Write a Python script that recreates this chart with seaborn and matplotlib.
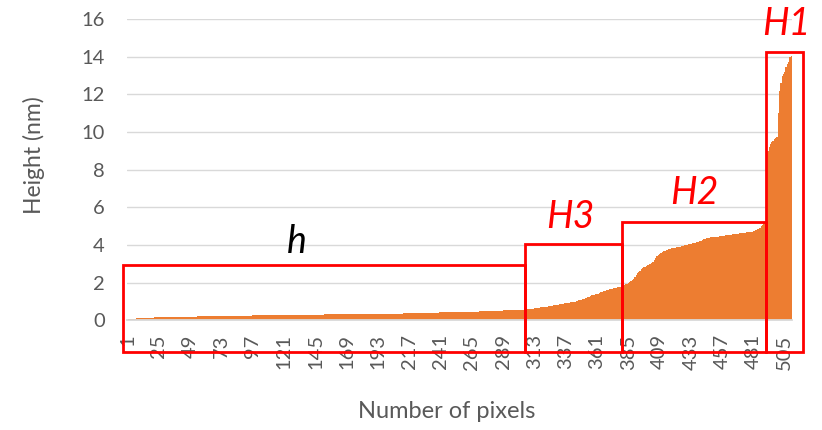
import numpy as np
import pandas as pd
import seaborn as sns
import matplotlib.pyplot as plt
import matplotlib
from matplotlib.patches import Rectangle

# sorted heights of every pixel (nm)
heights = [
    0.05, 0.06, 0.07, 0.08, 0.09, 0.10, 0.10, 0.11, 0.11, 0.12,
    0.12, 0.13, 0.13, 0.13, 0.14, 0.14, 0.14, 0.15, 0.15, 0.15,
    0.15, 0.16, 0.16, 0.16, 0.16, 0.17, 0.17, 0.17, 0.17, 0.17,
    0.18, 0.18, 0.18, 0.18, 0.18, 0.19, 0.19, 0.19, 0.19, 0.19,
    0.19, 0.20, 0.20, 0.20, 0.20, 0.20, 0.20, 0.21, 0.21, 0.21,
    0.21, 0.21, 0.21, 0.21, 0.22, 0.22, 0.22, 0.22, 0.22, 0.22,
    0.22, 0.23, 0.23, 0.23, 0.23, 0.23, 0.23, 0.23, 0.24, 0.24,
    0.24, 0.24, 0.24, 0.24, 0.24, 0.24, 0.25, 0.25, 0.25, 0.25,
    0.25, 0.25, 0.25, 0.25, 0.25, 0.26, 0.26, 0.26, 0.26, 0.26,
    0.26, 0.26, 0.26, 0.26, 0.26, 0.26, 0.27, 0.27, 0.27, 0.27,
    0.27, 0.27, 0.27, 0.27, 0.27, 0.27, 0.27, 0.27, 0.27, 0.27,
    0.27, 0.27, 0.28, 0.28, 0.28, 0.28, 0.28, 0.28, 0.28, 0.28,
    0.28, 0.29, 0.29, 0.29, 0.29, 0.29, 0.29, 0.29, 0.29, 0.29,
    0.30, 0.30, 0.30, 0.30, 0.30, 0.30, 0.30, 0.30, 0.30, 0.30,
    0.30, 0.30, 0.30, 0.31, 0.31, 0.31, 0.31, 0.31, 0.31, 0.31,
    0.31, 0.32, 0.32, 0.32, 0.32, 0.32, 0.32, 0.32, 0.32, 0.32,
    0.33, 0.33, 0.33, 0.33, 0.33, 0.33, 0.33, 0.33, 0.33, 0.33,
    0.33, 0.33, 0.34, 0.34, 0.34, 0.34, 0.34, 0.34, 0.34, 0.34,
    0.35, 0.35, 0.35, 0.35, 0.35, 0.35, 0.35, 0.35, 0.35, 0.35,
    0.35, 0.35, 0.36, 0.36, 0.36, 0.36, 0.36, 0.36, 0.36, 0.36,
    0.37, 0.37, 0.37, 0.37, 0.37, 0.37, 0.37, 0.37, 0.37, 0.37,
    0.37, 0.37, 0.38, 0.38, 0.38, 0.38, 0.38, 0.38, 0.39, 0.39,
    0.39, 0.39, 0.39, 0.39, 0.39, 0.40, 0.40, 0.40, 0.40, 0.40,
    0.40, 0.41, 0.41, 0.41, 0.42, 0.42, 0.42, 0.42, 0.42, 0.43,
    0.43, 0.43, 0.43, 0.43, 0.44, 0.44, 0.44, 0.44, 0.44, 0.44,
    0.44, 0.45, 0.45, 0.45, 0.45, 0.45, 0.45, 0.45, 0.45, 0.45,
    0.45, 0.46, 0.46, 0.46, 0.46, 0.47, 0.47, 0.47, 0.47, 0.47,
    0.48, 0.48, 0.48, 0.48, 0.49, 0.49, 0.49, 0.49, 0.50, 0.50,
    0.50, 0.50, 0.51, 0.51, 0.51, 0.52, 0.52, 0.52, 0.53, 0.53,
    0.53, 0.54, 0.54, 0.54, 0.55, 0.55, 0.55, 0.56, 0.56, 0.56,
    0.57, 0.57, 0.58, 0.58, 0.58, 0.59, 0.59, 0.60, 0.60, 0.61,
    0.62, 0.63, 0.64, 0.65, 0.66, 0.67, 0.68, 0.69, 0.70, 0.71,
    0.72, 0.73, 0.74, 0.75, 0.76, 0.77, 0.79, 0.80, 0.81, 0.83,
    0.84, 0.85, 0.87, 0.88, 0.89, 0.91, 0.92, 0.93, 0.94, 0.95,
    0.96, 0.97, 0.98, 1.00, 1.02, 1.05, 1.07, 1.09, 1.11, 1.13,
    1.15, 1.18, 1.21, 1.24, 1.27, 1.30, 1.33, 1.34, 1.36, 1.38,
    1.40, 1.43, 1.46, 1.49, 1.52, 1.55, 1.58, 1.60, 1.62, 1.64,
    1.66, 1.68, 1.69, 1.71, 1.73, 1.75, 1.76, 1.78, 1.80, 1.82,
    1.85, 1.88, 1.91, 1.95, 2.00, 2.05, 2.10, 2.16, 2.22, 2.30,
    2.40, 2.50, 2.58, 2.65, 2.71, 2.77, 2.82, 2.86, 2.90, 2.94,
    2.98, 3.02, 3.06, 3.10, 3.20, 3.32, 3.42, 3.50, 3.55, 3.60,
    3.64, 3.67, 3.70, 3.73, 3.75, 3.77, 3.80, 3.82, 3.84, 3.86,
    3.87, 3.88, 3.90, 3.91, 3.92, 3.94, 3.96, 3.98, 4.00, 4.02,
    4.04, 4.06, 4.08, 4.10, 4.11, 4.13, 4.15, 4.16, 4.18, 4.20,
    4.24, 4.28, 4.32, 4.35, 4.38, 4.39, 4.40, 4.41, 4.42, 4.43,
    4.43, 4.44, 4.45, 4.45, 4.46, 4.47, 4.48, 4.49, 4.50, 4.51,
    4.52, 4.53, 4.55, 4.56, 4.57, 4.58, 4.59, 4.60, 4.61, 4.62,
    4.63, 4.64, 4.65, 4.65, 4.66, 4.67, 4.68, 4.69, 4.70, 4.71,
    4.73, 4.76, 4.80, 4.84, 4.88, 4.93, 5.00, 5.08, 5.16, 5.30,
    8.60, 9.00, 9.22, 9.35, 9.45, 9.55, 9.62, 9.68, 9.75, 11.00,
    12.20, 12.60, 12.95, 13.10, 13.20, 13.45, 13.60, 13.74, 13.97, 14.05,
]
pixel_number = list(range(1, len(heights) + 1))

x_tick_labels = ["1", "25", "49", "73", "97", "121", "145", "169", "193", "217", "241",
                 "265", "289", "313", "337", "361", "385", "409", "433", "457", "481", "505"]
y_ticks = [0, 2, 4, 6, 8, 10, 12, 14, 16]

# region boxes: label, first bar position, last bar position, top (nm)
regions = [
    ("h", -3.8, 304.7, 2.95),
    ("H3", 304.7, 379.1, 4.04),
    ("H2", 379.1, 489.5, 5.21),
    ("H1", 489.5, 518.1, 14.26),
]
# label anchors: x position, baseline height (nm), colour
region_labels = [
    ("h", 129.9, 3.58, "black"),
    ("H3", 339.2, 4.91, "red"),
    ("H2", 434.3, 6.18, "red"),
    ("H1", 505.3, 15.15, "red"),
]
box_bottom = -1.67


def draw_chart(df):
    sns.set_style("white")
    matplotlib.rcParams['font.family'] = ['Lato', 'DejaVu Sans']

    fig = plt.figure(figsize=(8.22, 4.30), dpi=100)
    ax = fig.add_axes([0.1545, 0.2547, 0.809, 0.7012])

    sns.barplot(data=df, x="pixel", y="height", ax=ax, color="#ED7D31", saturation=1,
                width=1.0, linewidth=0, errorbar=None, zorder=2)
    # no antialiasing so the thin bars join into one solid area
    for bar in ax.patches:
        bar.set_antialiased(False)

    ax.set_ylim(0, 16)
    ax.set_xlim(-0.5, len(df) - 0.5)
    ax.set_yticks(y_ticks)
    ax.set_yticklabels([str(t) for t in y_ticks])
    ax.set_xticks(range(0, len(df), 24))
    ax.set_xticklabels(x_tick_labels, rotation=90)

    ax.yaxis.grid(True, color="#D9D9D9", linewidth=1.0, zorder=0)
    ax.set_axisbelow(True)
    for side in ["top", "right", "left"]:
        ax.spines[side].set_visible(False)
    ax.spines["bottom"].set_color("#D9D9D9")
    ax.spines["bottom"].set_linewidth(1.3)

    ax.tick_params(axis="y", length=0, pad=16, labelsize=14.5, labelcolor="#595959")
    ax.tick_params(axis="x", length=0, pad=10, labelsize=14.5, labelcolor="#595959")

    ax.set_ylabel("Height (nm)", fontsize=16.5, color="#595959")
    ax.yaxis.set_label_coords(-0.124, 0.548)
    ax.set_xlabel("Number of pixels", fontsize=17, color="#595959", va="center")
    ax.xaxis.set_label_coords(0.48, -0.302)

    for name, x0, x1, top in regions:
        rect = Rectangle((x0, box_bottom), x1 - x0, top - box_bottom, fill=False,
                         edgecolor="red", linewidth=2, clip_on=False, zorder=5)
        ax.add_patch(rect)

    for name, xpos, ypos, col in region_labels:
        ax.text(xpos, ypos, name, color=col, fontsize=27, fontstyle="italic",
                ha="center", va="baseline", zorder=6)

    fig.savefig("out.png", dpi=100)


def main():
    df = pd.DataFrame({"pixel": pixel_number, "height": heights})
    draw_chart(df)


if __name__ == "__main__":
    main()
